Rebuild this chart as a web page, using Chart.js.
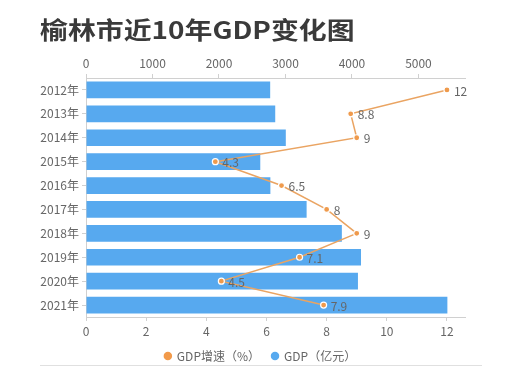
<!DOCTYPE html>
<html>
<head>
<meta charset="utf-8">
<script src="https://cdn.jsdelivr.net/npm/chart.js@4"></script>
<style>
  body { margin: 0; background: #fff; }
  #wrap { position: relative; width: 521px; height: 369px; }
  #title {
    position: absolute; left: 40px; top: 11px;
    font: bold 24px "Noto Sans CJK SC", sans-serif; color: #3a3a3a;
    white-space: nowrap; transform-origin: left top;
  }
  #rule { position: absolute; left: 40px; top: 365px; width: 442px; height: 1px; background: #e0e0e0; }
</style>
</head>
<body>
<div id="wrap">
  <canvas id="chart" width="521" height="369"></canvas>
  <div id="title">榆林市近10年GDP变化图</div>
  <div id="rule"></div>
</div>
<script>
// 年份
let years = ['2012年', '2013年', '2014年', '2015年', '2016年', '2017年', '2018年', '2019年', '2020年', '2021年'];
// GDP（亿元）
let gdp = [2770, 2846, 3005, 2621, 2773, 3318, 3848, 4136, 4090, 5435];
// GDP增速（%）
let growth = [12, 8.8, 9, 4.3, 6.5, 8, 9, 7.1, 4.5, 7.9];
// marcas de los ejes
let gdpTicks = [0, 1000, 2000, 3000, 4000, 5000];
let growthTicks = [0, 2, 4, 6, 8, 10, 12];

let fontFamily = '"Noto Sans CJK SC", sans-serif';

// estirar el título hasta el ancho del original
let title = document.getElementById('title');
title.style.transform = 'scaleX(' + (315 / title.offsetWidth) + ')';

// etiquetas de la línea a la derecha de cada punto
const pointLabels = {
    id: 'pointLabels',
    afterDatasetsDraw(chart) {
        let ctx = chart.ctx;
        let meta = chart.getDatasetMeta(0);
        ctx.save();
        ctx.font = '12px ' + fontFamily;
        ctx.fillStyle = '#666';
        ctx.textBaseline = 'middle';
        meta.data.forEach((pt, i) => {
            ctx.fillText(String(growth[i]), pt.x + 7, pt.y + 1);
        });
        ctx.restore();
    }
};

let axisColor = '#d0d0d0';

new Chart(document.getElementById('chart'), {
    data: {
        labels: years,
        datasets: [{
            type: 'line',
            label: 'GDP增速（%）',
            data: growth,
            xAxisID: 'x',
            yAxisID: 'y',
            borderColor: '#eaa462',
            backgroundColor: '#f29a4a',
            borderWidth: 1.5,
            pointRadius: 3,
            pointBackgroundColor: '#ef9a4c',
            pointBorderColor: '#fff',
            pointBorderWidth: 1.2,
            tension: 0,
            clip: false
        }, {
            type: 'bar',
            label: 'GDP（亿元）',
            data: gdp,
            xAxisID: 'x2',
            yAxisID: 'y',
            backgroundColor: '#57a9ef',
            barPercentage: 0.7,
            categoryPercentage: 1
        }]
    },
    options: {
        indexAxis: 'y',
        responsive: false,
        animation: false,
        layout: { padding: { top: 50, bottom: -3 } },
        scales: {
            y: {
                position: 'left',
                afterFit: s => { s.width = 86; },
                grid: { drawOnChartArea: false, offset: false, tickLength: 4, color: axisColor },
                border: { color: axisColor },
                ticks: { color: '#666', padding: 3, font: { size: 12, family: fontFamily } }
            },
            yr: {
                type: 'category',
                position: 'right',
                afterFit: s => { s.width = 56; },
                grid: { display: false },
                border: { display: false },
                ticks: { display: false }
            },
            x: {
                position: 'bottom',
                min: 0, max: 12.6,
                afterBuildTicks: s => { s.ticks = growthTicks.map(v => ({ value: v })); },
                afterFit: s => { s.height = 21; },
                grid: { drawOnChartArea: false, tickLength: 4, color: axisColor },
                border: { color: axisColor },
                ticks: { color: '#666', padding: 3, maxRotation: 0, autoSkip: false, callback: v => String(v), font: { size: 12, family: fontFamily } }
            },
            x2: {
                position: 'top',
                min: 0, max: 5700,
                afterBuildTicks: s => { s.ticks = gdpTicks.map(v => ({ value: v })); },
                afterFit: s => { s.height = 28; },
                grid: { drawOnChartArea: false, tickLength: 4, color: axisColor },
                border: { color: axisColor },
                ticks: { color: '#666', padding: 3, maxRotation: 0, autoSkip: false, callback: v => String(v), font: { size: 12, family: fontFamily } }
            }
        },
        plugins: {
            tooltip: { enabled: false },
            legend: {
                position: 'bottom',
                labels: {
                    usePointStyle: true,
                    pointStyle: 'circle',
                    boxWidth: 6,
                    boxHeight: 6,
                    padding: 12,
                    color: '#666',
                    font: { size: 12, family: fontFamily },
                    generateLabels: chart => chart.data.datasets.map((ds, i) => ({
                        text: ds.label,
                        fillStyle: i === 0 ? '#f29a4a' : '#57a9ef',
                        strokeStyle: i === 0 ? '#f29a4a' : '#57a9ef',
                        lineWidth: 0,
                        pointStyle: 'circle',
                        fontColor: '#666',
                        datasetIndex: i
                    }))
                }
            }
        }
    },
    plugins: [pointLabels]
});
</script>
</body>
</html>
